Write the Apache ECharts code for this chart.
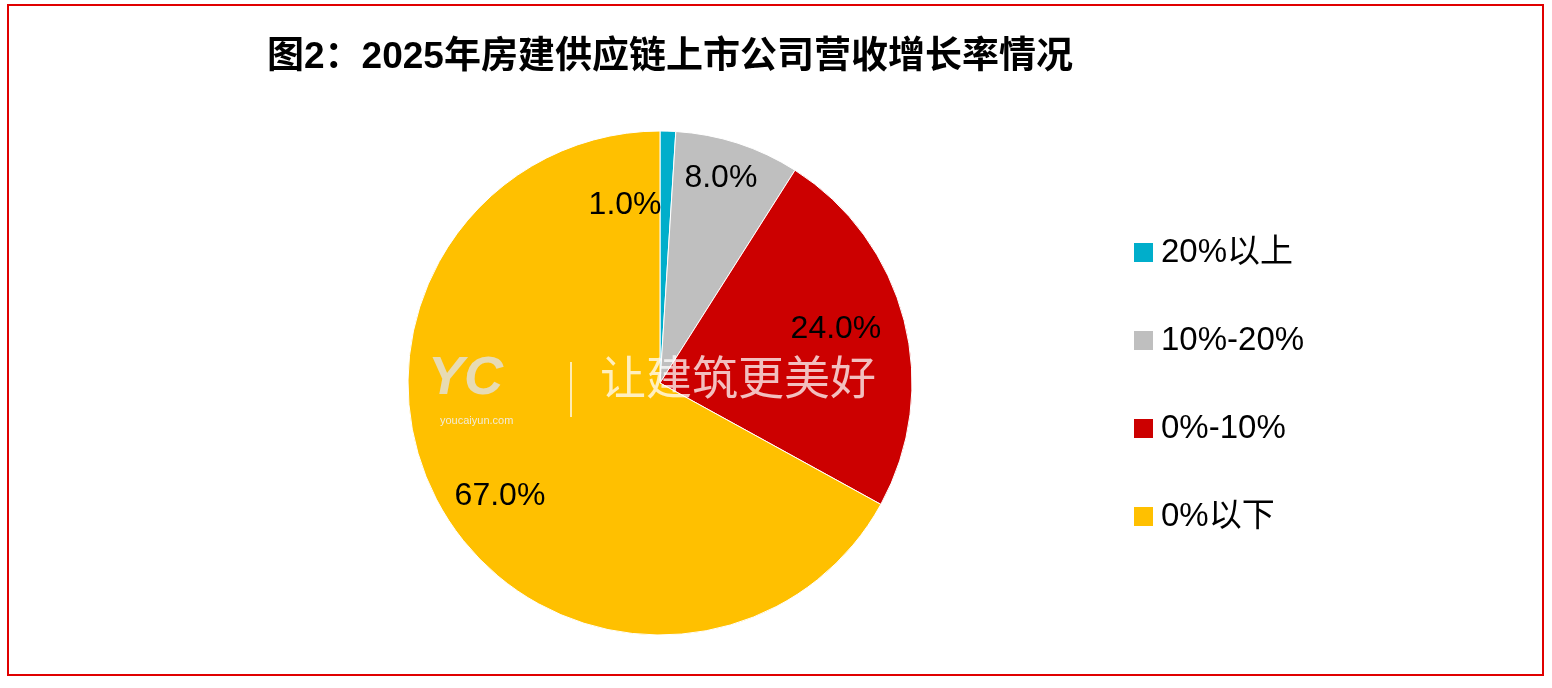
<!DOCTYPE html>
<html><head><meta charset="utf-8">
<script src="https://cdn.jsdelivr.net/npm/echarts@6/dist/echarts.min.js"></script>
<style>html,body{margin:0;padding:0;background:#fff}#c{width:1552px;height:688px}</style>
</head><body><div id="c"></div>
<script>
const categories = ['20%以上','10%-20%','0%-10%','0%以下'];
const values = [1.0, 8.0, 24.0, 67.0];
const colors = ['#00AECB','#BFBFBF','#CC0000','#FFC000'];
const labelOffsets = [[-39,-49],[21,-82],[51,-22],[-49,48]];
const chart = echarts.init(document.getElementById('c'));
const font = '"Liberation Sans","Noto Sans CJK SC",sans-serif';
chart.setOption({
  animation:false,
  title:{text:'图2：2025年房建供应链上市公司营收增长率情况',left:262,top:34,
    textStyle:{fontFamily:font,fontSize:37,fontWeight:'bold',color:'#000'}},
  graphic:[
    {type:'rect',shape:{x:8,y:5,width:1535,height:670},style:{fill:'none',stroke:'#E00000',lineWidth:2},z:-1},
    {type:'text',left:600,top:358,z:100,style:{text:'让建筑更美好',font:'46px '+font,fill:'rgba(255,255,255,0.75)'}},
    {type:'rect',shape:{x:570,y:362,width:2,height:55},style:{fill:'rgba(255,255,255,0.7)'},z:100},
    {type:'text',left:428,top:352,z:100,style:{text:'YC',font:'bold italic 54px '+font,fill:'rgba(225,225,225,0.8)'}},
    {type:'text',left:440,top:415,z:100,style:{text:'youcaiyun.com',font:'11px '+font,fill:'rgba(240,240,240,0.9)'}}
  ],
  legend:{orient:'vertical',left:1127,top:231,itemGap:55,itemWidth:21,itemHeight:21,icon:'rect',
    textStyle:{fontFamily:font,fontSize:33,color:'#000',padding:[0,0,0,2]},data:categories},
  series:[{type:'pie',center:[660,383],radius:[0,252],startAngle:90,clockwise:true,
    label:{show:true,position:'inside',fontFamily:font,fontSize:32,color:'#000',
      formatter:p=>p.value.toFixed(1)+'%'},
    labelLine:{show:false},
    itemStyle:{borderColor:'#fff',borderWidth:1},
    data:categories.map((n,i)=>({name:n,value:values[i],itemStyle:{color:colors[i]},label:{offset:labelOffsets[i]}}))
  }]
});
</script></body></html>
